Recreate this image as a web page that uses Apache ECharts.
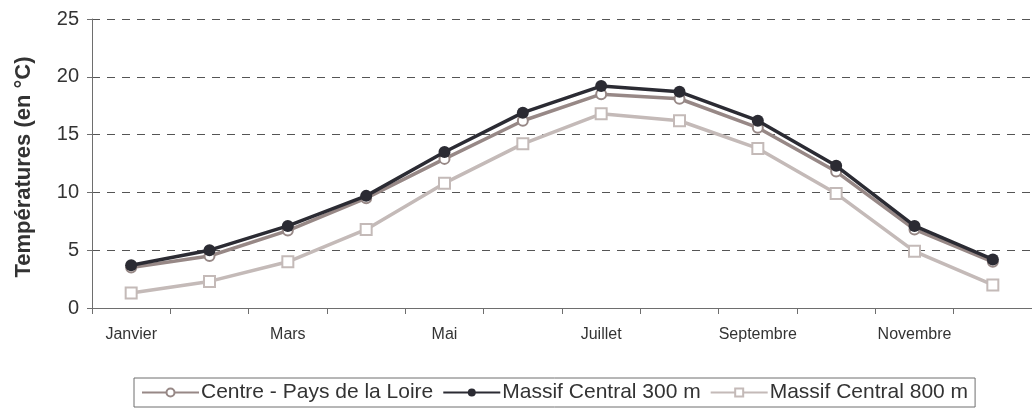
<!DOCTYPE html>
<html>
<head>
<meta charset="utf-8">
<script src="https://cdn.jsdelivr.net/npm/echarts@6/dist/echarts.min.js"></script>
<style>
html,body{margin:0;padding:0;background:#fff;}
#chart{width:1032px;height:418px;}
</style>
</head>
<body>
<div id="chart"></div>
<script>
const months = ['Janvier','Février','Mars','Avril','Mai','Juin','Juillet','Août','Septembre','Octobre','Novembre','Décembre'];
const centreLoire = [3.5, 4.5, 6.7, 9.5, 12.9, 16.2, 18.5, 18.1, 15.6, 11.8, 6.8, 4.0];
const massif300 = [3.7, 5.0, 7.1, 9.7, 13.5, 16.9, 19.2, 18.7, 16.2, 12.3, 7.1, 4.2];
const massif800 = [1.3, 2.3, 4.0, 6.8, 10.8, 14.2, 16.8, 16.2, 13.8, 9.9, 4.9, 2.0];
const seriesNames = ['Centre - Pays de la Loire', 'Massif Central 300 m', 'Massif Central 800 m'];
const yTitle = 'Températures (en °C)';

const chart = echarts.init(document.getElementById('chart'));
const font = "'Liberation Sans', Arial, sans-serif";
chart.setOption({
  animation: false,
  backgroundColor: '#ffffff',
  grid: { left: 92, top: 19, width: 948, height: 289, containLabel: false },
  xAxis: {
    type: 'category',
    data: months,
    boundaryGap: true,
    axisLine: { lineStyle: { color: '#6e6e6e', width: 1 } },
    axisTick: { show: true, interval: 0, length: 6, lineStyle: { color: '#6e6e6e' } },
    axisLabel: { interval: 1, color: '#333', fontFamily: font, fontSize: 16, margin: 19 },
    splitLine: { show: false }
  },
  yAxis: {
    type: 'value',
    min: 0, max: 25, interval: 5,
    name: yTitle,
    nameLocation: 'middle',
    nameGap: 57,
    nameRotate: 90,
    nameTextStyle: { fontFamily: font, fontSize: 22, fontWeight: 'bold', color: '#333', padding: [0, 7, 0, 0] },
    axisLine: { show: true, lineStyle: { color: '#6e6e6e', width: 1 } },
    axisTick: { show: true, length: 5, lineStyle: { color: '#6e6e6e' } },
    axisLabel: { color: '#333', fontFamily: font, fontSize: 20, margin: 13 },
    splitLine: { show: true, lineStyle: { color: '#555', type: [8, 7], width: 1 } }
  },
  legend: {
    left: 134, top: 378,
    orient: 'horizontal',
    borderColor: '#6e6e6e', borderWidth: 1,
    padding: [4, 7, 4, 7],
    itemWidth: 57, itemHeight: 10, itemGap: 9,
    textStyle: { fontFamily: font, fontSize: 21, color: '#333', padding: [0, 0, 0, -3] },
    data: seriesNames
  },
  series: [
    {
      name: seriesNames[0], type: 'line', data: centreLoire,
      symbol: 'emptyCircle', symbolSize: 10,
      lineStyle: { color: '#978886', width: 3.5 },
      itemStyle: { color: '#978886', borderColor: '#978886', borderWidth: 2 },
      z: 2
    },
    {
      name: seriesNames[1], type: 'line', data: massif300,
      symbol: 'circle', symbolSize: 12,
      lineStyle: { color: '#2b2b33', width: 3.5 },
      itemStyle: { color: '#2b2b33' },
      z: 3
    },
    {
      name: seriesNames[2], type: 'line', data: massif800,
      symbol: 'emptyRect', symbolSize: 11,
      lineStyle: { color: '#c4bab8', width: 3.5 },
      itemStyle: { color: '#c4bab8', borderColor: '#c4bab8', borderWidth: 2 },
      z: 1
    }
  ]
});
</script>
</body>
</html>
